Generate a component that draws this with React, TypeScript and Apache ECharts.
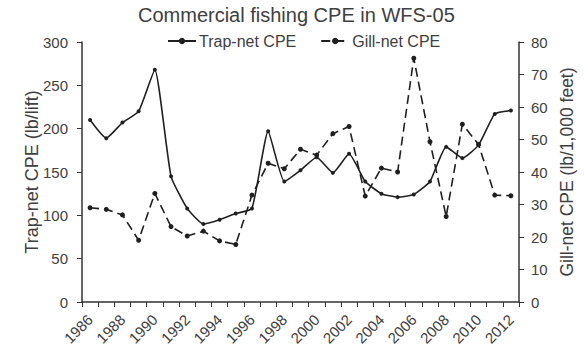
import React, { useEffect, useRef } from "react";
import * as echarts from "echarts";

const years = ["1986","1987","1988","1989","1990","1991","1992","1993","1994","1995","1996","1997","1998","1999","2000","2001","2002","2003","2004","2005","2006","2007","2008","2009","2010","2011","2012"];
const trapNet = [210, 189, 207, 220, 268, 145, 108, 90, 95, 102, 108, 197, 139, 152, 167, 149, 171, 139, 125, 121, 124, 139, 179, 166, 181, 217, 221];
const gillNet = [29, 28.5, 26.8, 19, 33.4, 23.2, 20.3, 21.8, 18.8, 17.7, 32.9, 42.7, 41, 47, 45.2, 51.8, 54, 32.6, 41.2, 40, 75, 49.3, 26.3, 54.7, 48.5, 32.9, 32.7];

const FONT = "Liberation Sans, Arial, sans-serif";
const TXT = "#404040";
const LINE = "#1f1f1f";

export default function App() {
  const ref = useRef<HTMLDivElement>(null);
  useEffect(() => {
    if (!ref.current) return;
    const chart = echarts.init(ref.current, undefined, { renderer: "svg" });
    chart.setOption({
      animation: false,
      backgroundColor: "#ffffff",
      textStyle: { fontFamily: FONT },
      title: {
        text: "Commercial fishing CPE in WFS-05",
        left: 138,
        top: 5,
        padding: 0,
        textStyle: { fontFamily: FONT, fontSize: 20, fontWeight: "normal", color: TXT },
      },
      legend: {
        left: 167,
        top: 33,
        padding: 0,
        itemGap: 24,
        itemWidth: 28,
        itemHeight: 8,
        textStyle: { fontFamily: FONT, fontSize: 16, color: TXT, padding: [0, 0, 0, -2] },
        data: ["Trap-net CPE", "Gill-net CPE"],
      },
      grid: { left: 82, right: 60, top: 42, bottom: 56 },
      xAxis: {
        type: "category",
        data: years,
        boundaryGap: true,
        axisLine: { lineStyle: { color: "#333", width: 1.5 } },
        axisTick: { show: true, interval: 0, length: 5, lineStyle: { color: "#333" } },
        axisLabel: { interval: 1, rotate: 45, margin: 15, fontFamily: FONT, fontSize: 15, color: TXT },
        splitLine: { show: false },
      },
      yAxis: [
        {
          type: "value",
          min: 0,
          max: 300,
          interval: 50,
          name: "Trap-net CPE (lb/lift)",
          nameLocation: "middle",
          nameGap: 41,
          nameMoveOverlap: false,
          nameTextStyle: { fontFamily: FONT, fontSize: 18, color: TXT },
          axisLine: { show: true, lineStyle: { color: "#333", width: 1.5 } },
          axisTick: { show: true, length: 5, lineStyle: { color: "#333" } },
          axisLabel: { margin: 14, fontFamily: FONT, fontSize: 15, color: TXT },
          splitLine: { show: false },
        },
        {
          type: "value",
          min: 0,
          max: 80,
          interval: 10,
          position: "right",
          name: "Gill-net CPE (lb/1,000 feet)",
          nameLocation: "middle",
          nameGap: 39,
          nameMoveOverlap: false,
          nameTextStyle: { fontFamily: FONT, fontSize: 17.5, color: TXT },
          axisLine: { show: true, lineStyle: { color: "#333", width: 1.5 } },
          axisTick: { show: true, length: 5, lineStyle: { color: "#333" } },
          axisLabel: { margin: 12, fontFamily: FONT, fontSize: 15, color: TXT },
          splitLine: { show: false },
        },
      ],
      series: [
        {
          name: "Trap-net CPE",
          type: "line",
          yAxisIndex: 0,
          data: trapNet,
          smooth: 0.15,
          symbol: "circle",
          symbolSize: 4,
          itemStyle: { color: LINE },
          lineStyle: { color: LINE, width: 1.6 },
        },
        {
          name: "Gill-net CPE",
          type: "line",
          yAxisIndex: 1,
          data: gillNet,
          symbol: "circle",
          symbolSize: 5,
          itemStyle: { color: LINE },
          lineStyle: { color: LINE, width: 1.6, type: [9, 5] },
        },
      ],
    });
    return () => chart.dispose();
  }, []);
  return (
    <div
      ref={ref}
      style={{ position: "fixed", left: 0, top: 0, width: 584, height: 358, background: "#fff" }}
    />
  );
}
